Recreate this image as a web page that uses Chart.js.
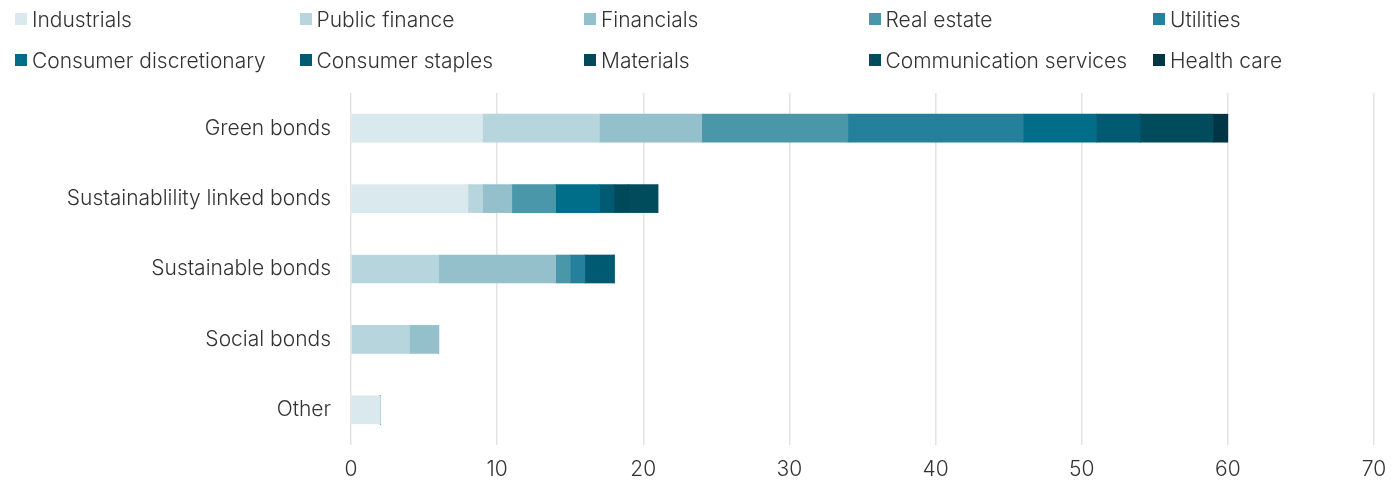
<!DOCTYPE html>
<html>
<head>
<meta charset="utf-8">
<script src="https://cdn.jsdelivr.net/npm/chart.js@4"></script>
<style>
  html, body { margin: 0; padding: 0; background: #fff; }
  #wrap { position: relative; width: 1400px; height: 483px; }
  #legend {
    position: absolute; left: 15px; top: 6px;
    display: grid; grid-template-columns: repeat(5, 284.5px);
    grid-auto-rows: 41px;
    font-family: 'Inter', sans-serif; font-size: 21px; font-weight: 300; color: #333;
  }
  #legend div { display: flex; align-items: center; height: 26px; white-space: nowrap; }
  #legend span.box { width: 12px; height: 12px; margin-right: 5px; display: inline-block; }
  canvas { position: absolute; left: 0; top: 0; }
</style>
</head>
<body>
<div id="wrap">
  <canvas id="chart" width="1400" height="483"></canvas>
  <div id="legend"></div>
</div>
<script>
const categories = ['Green bonds', 'Sustainablility linked bonds', 'Sustainable bonds', 'Social bonds', 'Other'];

const sectors = ['Industrials', 'Public finance', 'Financials', 'Real estate', 'Utilities',
  'Consumer discretionary', 'Consumer staples', 'Materials', 'Communication services', 'Health care'];

const colors = ['#dae9ee', '#b7d5dd', '#94c0cc', '#4a97aa', '#25819b',
  '#006e88', '#005a72', '#00495b', '#004b5c', '#003545'];

// values per sector, in category order
const industrials   = [9, 8, 0, 0, 2];
const publicFinance = [8, 1, 6, 4, 0];
const financials    = [7, 2, 8, 2, 0];
const realEstate    = [10, 3, 1, 0, 0];
const utilities     = [12, 0, 1, 0, 0];
const consumerDisc  = [5, 3, 0, 0, 0];
const consumerStap  = [3, 1, 2, 0, 0];
const materials     = [0, 1, 0, 0, 0];
const commServices  = [5, 2, 0, 0, 0];
const healthCare    = [1, 0, 0, 0, 0];

const xTicks = [0, 10, 20, 30, 40, 50, 60, 70];

const seriesValues = [industrials, publicFinance, financials, realEstate, utilities,
  consumerDisc, consumerStap, materials, commServices, healthCare];

const datasets = sectors.map((name, i) => ({
  label: name,
  data: seriesValues[i],
  backgroundColor: colors[i],
  borderWidth: 0,
  barThickness: 28
}));

// html legend
const legendEl = document.getElementById('legend');
sectors.forEach((name, i) => {
  const d = document.createElement('div');
  d.innerHTML = `<span class="box" style="background:${colors[i]}"></span>${name}`;
  legendEl.appendChild(d);
});

Chart.defaults.font.family = "'Inter', sans-serif";
Chart.defaults.color = '#333';

new Chart(document.getElementById('chart'), {
  type: 'bar',
  data: { labels: categories, datasets: datasets },
  options: {
    indexAxis: 'y',
    responsive: false,
    animation: false,
    layout: { padding: { top: 93, right: 26, left: 0, bottom: 0 } },
    plugins: { legend: { display: false }, tooltip: { enabled: false } },
    scales: {
      x: {
        stacked: true,
        min: 0, max: 70,
        afterBuildTicks: (scale) => { scale.ticks = xTicks.map(v => ({ value: v })); },
        grid: { color: '#e3e3e3', lineWidth: 1.5, drawTicks: false },
        border: { display: false },
        ticks: { font: { size: 21, weight: '300' }, padding: 12, color: '#333' },
        afterFit: (scale) => { scale.height = 38; }
      },
      y: {
        stacked: true,
        grid: { display: false, drawTicks: false },
        border: { display: false },
        ticks: { font: { size: 21, weight: '300' }, padding: 20, color: '#333' },
        afterFit: (scale) => { scale.width = 351; }
      }
    }
  }
});
</script>
</body>
</html>
